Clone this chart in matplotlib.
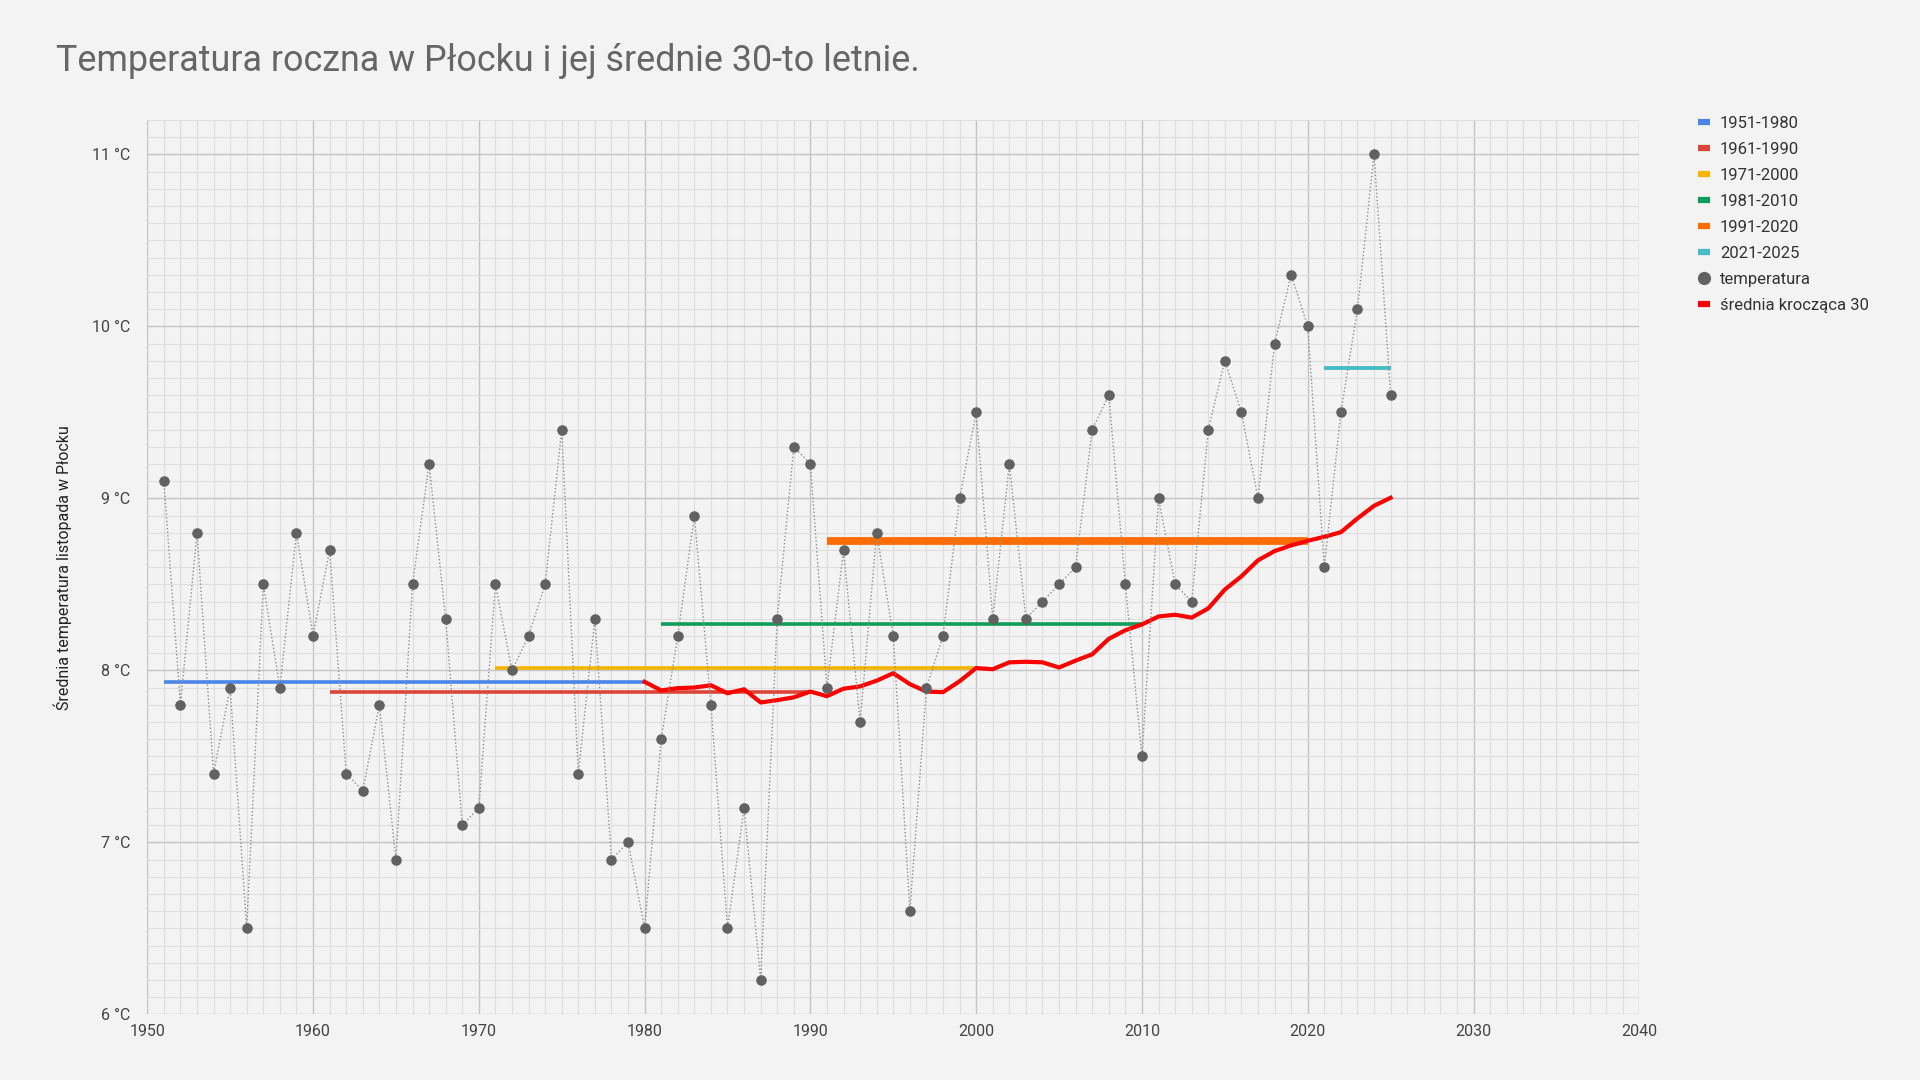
import matplotlib
matplotlib.use("Agg")
import matplotlib.pyplot as plt
from matplotlib.lines import Line2D
from matplotlib.ticker import MultipleLocator, FuncFormatter
import numpy as np
import pandas as pd

# Średnia temperatura listopada w Płocku
years = list(range(1951, 2026))
temps = [
    9.1, 7.8, 8.8, 7.4, 7.9, 6.5, 8.5, 7.9, 8.8, 8.2,   # 1951-1960
    8.7, 7.4, 7.3, 7.8, 6.9, 8.5, 9.2, 8.3, 7.1, 7.2,   # 1961-1970
    8.5, 8.0, 8.2, 8.5, 9.4, 7.4, 8.3, 6.9, 7.0, 6.5,   # 1971-1980
    7.6, 8.2, 8.9, 7.8, 6.5, 7.2, 6.2, 8.3, 9.3, 9.2,   # 1981-1990
    7.9, 8.7, 7.7, 8.8, 8.2, 6.6, 7.9, 8.2, 9.0, 9.5,   # 1991-2000
    8.3, 9.2, 8.3, 8.4, 8.5, 8.6, 9.4, 9.6, 8.5, 7.5,   # 2001-2010
    9.0, 8.5, 8.4, 9.4, 9.8, 9.5, 9.0, 9.9, 10.3, 10.0, # 2011-2020
    8.6, 9.5, 10.1, 11.0, 9.6,                          # 2021-2025
]

period_starts = [1951, 1961, 1971, 1981, 1991, 2021]
period_ends = [1980, 1990, 2000, 2010, 2020, 2025]
period_colors = ["#4a86e8", "#db4437", "#f4b400", "#0f9d58", "#ff6d01", "#46bdc6"]
period_widths = [2.6, 2.6, 2.6, 2.6, 5.6, 2.8]

rolling_window = 30

plt.rcParams["font.family"] = ["Roboto", "DejaVu Sans"]

s = pd.Series(temps, index=years)
rolling = s.rolling(rolling_window).mean()

fig = plt.figure(figsize=(19.2, 10.8), dpi=100)
fig.patch.set_facecolor("#f3f3f3")
ax = fig.add_axes([0.0767, 0.0608, 0.7771, 0.8281])
ax.set_facecolor("#f3f3f3")

# linie średnich okresowych
handles = []
for start, end, col, lw in zip(period_starts, period_ends, period_colors, period_widths):
    mean = s.loc[start:end].mean()
    ax.plot([start, end], [mean, mean], color=col, lw=lw, solid_capstyle="butt", zorder=3)
    handles.append(Line2D([], [], color=col, lw=4.5, solid_capstyle="butt"))

# średnia krocząca
rm = rolling.dropna()
ax.plot(rm.index, rm.values, color="#ff0000", lw=3.0, zorder=4, solid_joinstyle="round")

# temperatura roczna
ax.plot(years, temps, color="#8c8c8c", lw=1.0, linestyle=(0, (1, 1.6)), zorder=5)
ax.plot(years, temps, "o", color="#616161", markersize=7.6, markeredgewidth=0, zorder=6)

handles.append(Line2D([], [], marker="o", color="#616161", linestyle="none",
                      markersize=9.5, markeredgewidth=0))
handles.append(Line2D([], [], color="#ff0000", lw=4.5, solid_capstyle="butt"))
labels = [f"{a}-{b}" for a, b in zip(period_starts, period_ends)]
labels += ["temperatura", "średnia krocząca 30"]

ax.set_xlim(1950, 2040)
ax.set_ylim(6, 11.2)
ax.xaxis.set_major_locator(MultipleLocator(10))
ax.xaxis.set_minor_locator(MultipleLocator(1))
ax.yaxis.set_major_locator(MultipleLocator(1))
ax.yaxis.set_minor_locator(MultipleLocator(0.1))
ax.yaxis.set_major_formatter(FuncFormatter(lambda v, p: f"{int(round(v))} °C"))
ax.grid(which="major", color="#c4c4c4", lw=1.0, zorder=0)
ax.grid(which="minor", color="#dedede", lw=0.8, zorder=0)
ax.set_axisbelow(True)
for sp in ax.spines.values():
    sp.set_visible(False)
ax.tick_params(which="both", length=0)
ax.tick_params(axis="x", labelsize=11.5, labelcolor="#444444", pad=7)
ax.tick_params(axis="y", labelsize=11.5, labelcolor="#444444", pad=12)

ax.set_ylabel("Średnia temperatura listopada w Płocku", fontsize=11.5, color="#222222", labelpad=15)

fig.text(0.029, 0.934, "Temperatura roczna w Płocku i jej średnie 30-to letnie.",
         fontsize=25.8, color="#666666", ha="left", va="baseline")

fig.legend(handles, labels, loc="upper left", bbox_to_anchor=(0.8845, 0.893),
           frameon=False, fontsize=12, handlelength=0.7, handletextpad=0.6,
           labelspacing=0.66, borderpad=0, borderaxespad=0, labelcolor="#333333")

fig.savefig("out.png", dpi=100, facecolor=fig.get_facecolor())
